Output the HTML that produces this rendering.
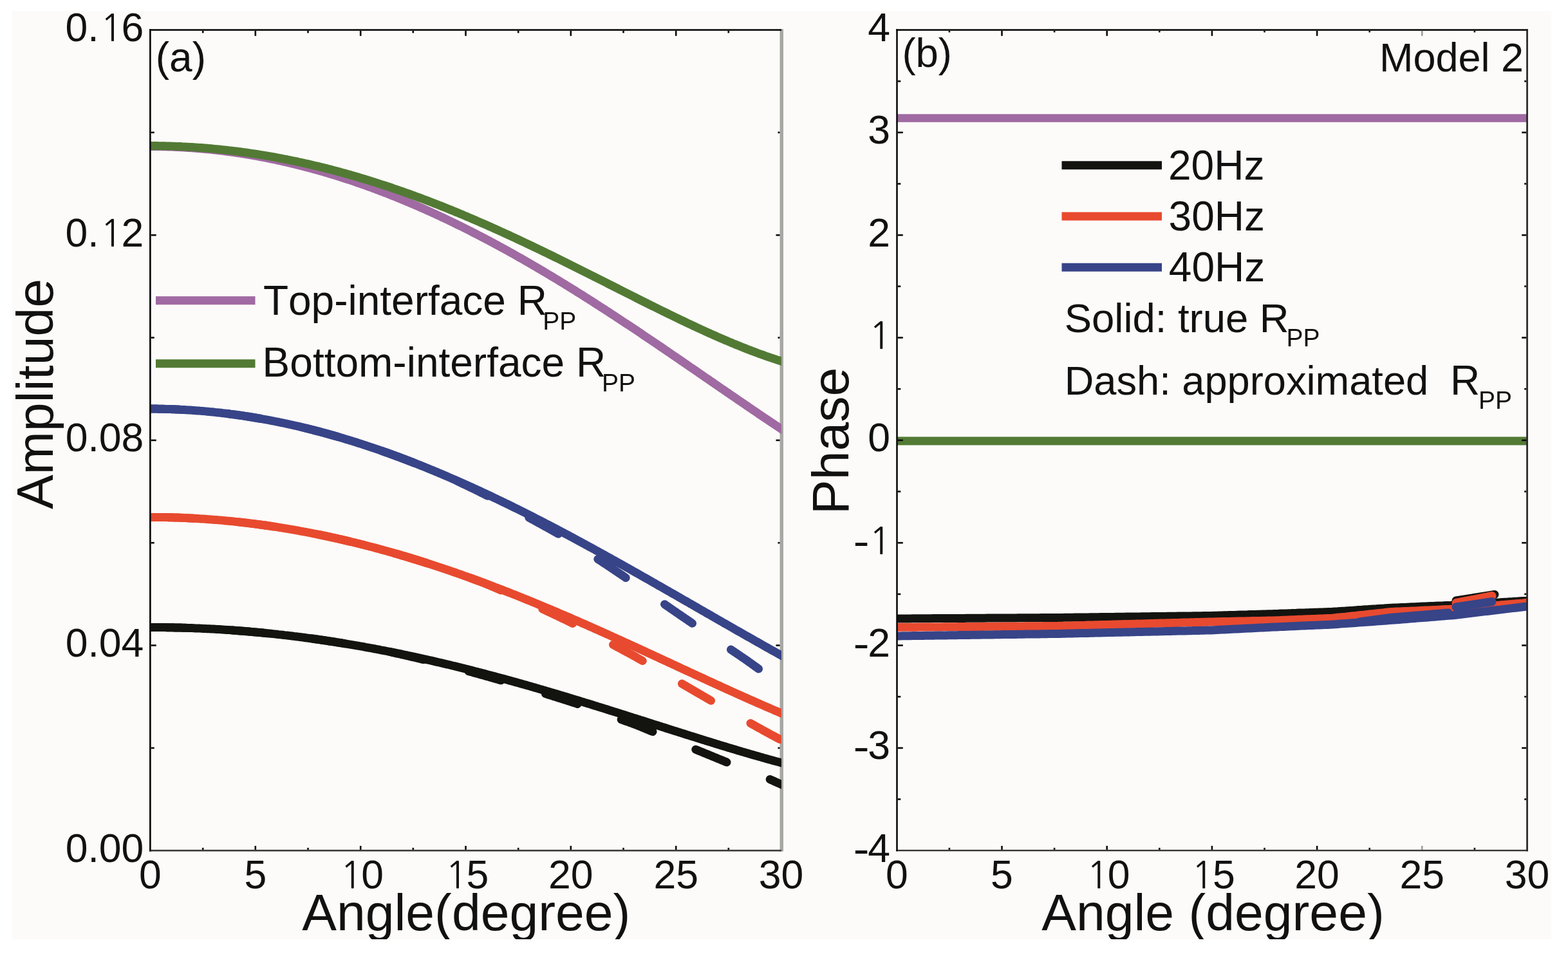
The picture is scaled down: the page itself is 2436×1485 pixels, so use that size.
<!DOCTYPE html><html><head><meta charset="utf-8"><title>Figure</title><style>html,body{margin:0;padding:0;background:#fff;width:2436px;height:1485px;overflow:hidden}</style></head><body><svg width="2436" height="1485" viewBox="0 0 2436 1485" style="display:block">
<defs><clipPath id="pg"><rect x="19" y="17" width="2391" height="1442"/></clipPath><clipPath id="ca"><rect x="234" y="47" width="980" height="1273"/></clipPath><clipPath id="cb"><rect x="1394" y="47" width="978" height="1273"/></clipPath></defs>
<rect width="2436" height="1485" fill="#ffffff"/>
<g clip-path="url(#pg)">
<rect x="19" y="17" width="2391" height="1442" fill="#fcfbf9"/>
<rect x="1211.5" y="45.2" width="5.5" height="1277.4" fill="#a7a7a3"/>
<g clip-path="url(#ca)"><path d="M226.0,227.5L229.0,227.5L232.0,227.5L235.0,227.5L238.0,227.5L241.0,227.5L244.0,227.5L247.0,227.6L250.0,227.6L253.0,227.7L256.0,227.8L259.0,227.8L262.0,227.9L265.0,228.0L268.0,228.1L271.0,228.3L274.0,228.4L277.0,228.5L280.0,228.7L283.0,228.8L286.0,229.0L289.0,229.2L292.0,229.4L295.0,229.6L298.0,229.8L301.0,230.0L304.0,230.2L307.0,230.5L310.0,230.7L313.0,231.0L316.0,231.2L319.0,231.5L322.0,231.8L325.0,232.1L328.0,232.4L331.0,232.7L334.0,233.0L337.0,233.4L340.0,233.7L343.0,234.1L346.0,234.4L349.0,234.8L352.0,235.2L355.0,235.6L358.0,236.0L361.0,236.4L364.0,236.9L367.0,237.3L370.0,237.7L373.0,238.2L376.0,238.6L379.0,239.1L382.0,239.6L385.0,240.1L388.0,240.6L391.0,241.1L394.0,241.6L397.0,242.2L400.0,242.7L403.0,243.3L406.0,243.8L409.0,244.4L412.0,245.0L415.0,245.6L418.0,246.2L421.0,246.8L424.0,247.4L427.0,248.0L430.0,248.7L433.0,249.3L436.0,250.0L439.0,250.6L442.0,251.3L445.0,252.0L448.0,252.7L451.0,253.4L454.0,254.1L457.0,254.8L460.0,255.6L463.0,256.3L466.0,257.1L469.0,257.8L472.0,258.6L475.0,259.4L478.0,260.2L481.0,261.0L484.0,261.8L487.0,262.6L490.0,263.4L493.0,264.3L496.0,265.1L499.0,266.0L502.0,266.8L505.0,267.7L508.0,268.6L511.0,269.5L514.0,270.4L517.0,271.3L520.0,272.2L523.0,273.2L526.0,274.1L529.0,275.0L532.0,276.0L535.0,277.0L538.0,278.0L541.0,278.9L544.0,279.9L547.0,280.9L550.0,281.9L553.0,283.0L556.0,284.0L559.0,285.0L562.0,286.1L565.0,287.2L568.0,288.2L571.0,289.3L574.0,290.4L577.0,291.5L580.0,292.6L583.0,293.7L586.0,294.8L589.0,295.9L592.0,297.1L595.0,298.2L598.0,299.4L601.0,300.5L604.0,301.7L607.0,302.9L610.0,304.1L613.0,305.3L616.0,306.5L619.0,307.7L622.0,308.9L625.0,310.2L628.0,311.4L631.0,312.7L634.0,313.9L637.0,315.2L640.0,316.5L643.0,317.7L646.0,319.0L649.0,320.3L652.0,321.7L655.0,323.0L658.0,324.3L661.0,325.6L664.0,327.0L667.0,328.3L670.0,329.7L673.0,331.1L676.0,332.4L679.0,333.8L682.0,335.2L685.0,336.6L688.0,338.0L691.0,339.4L694.0,340.8L697.0,342.3L700.0,343.7L703.0,345.2L706.0,346.6L709.0,348.1L712.0,349.6L715.0,351.0L718.0,352.5L721.0,354.0L724.0,355.5L727.0,357.0L730.0,358.5L733.0,360.1L736.0,361.6L739.0,363.1L742.0,364.7L745.0,366.2L748.0,367.8L751.0,369.4L754.0,370.9L757.0,372.5L760.0,374.1L763.0,375.7L766.0,377.3L769.0,378.9L772.0,380.5L775.0,382.2L778.0,383.8L781.0,385.4L784.0,387.1L787.0,388.7L790.0,390.4L793.0,392.1L796.0,393.7L799.0,395.4L802.0,397.1L805.0,398.8L808.0,400.5L811.0,402.2L814.0,403.9L817.0,405.7L820.0,407.4L823.0,409.1L826.0,410.8L829.0,412.6L832.0,414.3L835.0,416.1L838.0,417.9L841.0,419.6L844.0,421.4L847.0,423.2L850.0,425.0L853.0,426.8L856.0,428.6L859.0,430.4L862.0,432.2L865.0,434.0L868.0,435.8L871.0,437.7L874.0,439.5L877.0,441.3L880.0,443.2L883.0,445.0L886.0,446.9L889.0,448.7L892.0,450.6L895.0,452.5L898.0,454.4L901.0,456.2L904.0,458.1L907.0,460.0L910.0,461.9L913.0,463.8L916.0,465.7L919.0,467.6L922.0,469.5L925.0,471.5L928.0,473.4L931.0,475.3L934.0,477.3L937.0,479.2L940.0,481.1L943.0,483.1L946.0,485.0L949.0,487.0L952.0,488.9L955.0,490.9L958.0,492.9L961.0,494.8L964.0,496.8L967.0,498.8L970.0,500.8L973.0,502.8L976.0,504.7L979.0,506.7L982.0,508.7L985.0,510.7L988.0,512.7L991.0,514.7L994.0,516.7L997.0,518.7L1000.0,520.8L1003.0,522.8L1006.0,524.8L1009.0,526.8L1012.0,528.8L1015.0,530.9L1018.0,532.9L1021.0,534.9L1024.0,537.0L1027.0,539.0L1030.0,541.0L1033.0,543.1L1036.0,545.1L1039.0,547.2L1042.0,549.2L1045.0,551.3L1048.0,553.3L1051.0,555.4L1054.0,557.4L1057.0,559.5L1060.0,561.5L1063.0,563.6L1066.0,565.6L1069.0,567.7L1072.0,569.8L1075.0,571.8L1078.0,573.9L1081.0,575.9L1084.0,578.0L1087.0,580.1L1090.0,582.1L1093.0,584.2L1096.0,586.3L1099.0,588.3L1102.0,590.4L1105.0,592.5L1108.0,594.5L1111.0,596.6L1114.0,598.6L1117.0,600.7L1120.0,602.8L1123.0,604.8L1126.0,606.9L1129.0,609.0L1132.0,611.0L1135.0,613.1L1138.0,615.1L1141.0,617.2L1144.0,619.2L1147.0,621.3L1150.0,623.3L1153.0,625.4L1156.0,627.4L1159.0,629.5L1162.0,631.5L1165.0,633.6L1168.0,635.6L1171.0,637.7L1174.0,639.7L1177.0,641.7L1180.0,643.8L1183.0,645.8L1186.0,647.8L1189.0,649.8L1192.0,651.8L1195.0,653.9L1198.0,655.9L1201.0,657.9L1204.0,659.9L1207.0,661.9L1210.0,663.9L1213.0,665.9L1216.0,667.9L1219.0,669.9L1222.0,671.8" stroke="#a06aa2" stroke-width="13" fill="none" stroke-linejoin="round"/><path d="M226.0,226.6L229.0,226.6L232.0,226.6L235.0,226.6L238.0,226.6L241.0,226.6L244.0,226.6L247.0,226.7L250.0,226.7L253.0,226.8L256.0,226.8L259.0,226.9L262.0,227.0L265.0,227.1L268.0,227.2L271.0,227.3L274.0,227.4L277.0,227.5L280.0,227.6L283.0,227.8L286.0,227.9L289.0,228.1L292.0,228.2L295.0,228.4L298.0,228.6L301.0,228.8L304.0,229.0L307.0,229.2L310.0,229.4L313.0,229.6L316.0,229.8L319.0,230.1L322.0,230.3L325.0,230.6L328.0,230.8L331.0,231.1L334.0,231.4L337.0,231.7L340.0,232.0L343.0,232.3L346.0,232.6L349.0,232.9L352.0,233.2L355.0,233.6L358.0,233.9L361.0,234.3L364.0,234.6L367.0,235.0L370.0,235.4L373.0,235.8L376.0,236.2L379.0,236.6L382.0,237.0L385.0,237.4L388.0,237.9L391.0,238.3L394.0,238.8L397.0,239.2L400.0,239.7L403.0,240.2L406.0,240.6L409.0,241.1L412.0,241.6L415.0,242.1L418.0,242.6L421.0,243.2L424.0,243.7L427.0,244.2L430.0,244.8L433.0,245.4L436.0,245.9L439.0,246.5L442.0,247.1L445.0,247.7L448.0,248.3L451.0,248.9L454.0,249.5L457.0,250.1L460.0,250.7L463.0,251.4L466.0,252.0L469.0,252.7L472.0,253.3L475.0,254.0L478.0,254.7L481.0,255.4L484.0,256.1L487.0,256.8L490.0,257.5L493.0,258.2L496.0,258.9L499.0,259.7L502.0,260.4L505.0,261.1L508.0,261.9L511.0,262.7L514.0,263.4L517.0,264.2L520.0,265.0L523.0,265.8L526.0,266.6L529.0,267.4L532.0,268.3L535.0,269.1L538.0,269.9L541.0,270.8L544.0,271.6L547.0,272.5L550.0,273.3L553.0,274.2L556.0,275.1L559.0,276.0L562.0,276.9L565.0,277.8L568.0,278.7L571.0,279.6L574.0,280.6L577.0,281.5L580.0,282.4L583.0,283.4L586.0,284.3L589.0,285.3L592.0,286.3L595.0,287.3L598.0,288.2L601.0,289.2L604.0,290.2L607.0,291.2L610.0,292.3L613.0,293.3L616.0,294.3L619.0,295.4L622.0,296.4L625.0,297.4L628.0,298.5L631.0,299.6L634.0,300.6L637.0,301.7L640.0,302.8L643.0,303.9L646.0,305.0L649.0,306.1L652.0,307.2L655.0,308.3L658.0,309.5L661.0,310.6L664.0,311.7L667.0,312.9L670.0,314.0L673.0,315.2L676.0,316.4L679.0,317.5L682.0,318.7L685.0,319.9L688.0,321.1L691.0,322.3L694.0,323.5L697.0,324.7L700.0,325.9L703.0,327.1L706.0,328.4L709.0,329.6L712.0,330.8L715.0,332.1L718.0,333.3L721.0,334.6L724.0,335.9L727.0,337.1L730.0,338.4L733.0,339.7L736.0,341.0L739.0,342.3L742.0,343.6L745.0,344.9L748.0,346.2L751.0,347.5L754.0,348.8L757.0,350.1L760.0,351.5L763.0,352.8L766.0,354.1L769.0,355.5L772.0,356.8L775.0,358.2L778.0,359.6L781.0,360.9L784.0,362.3L787.0,363.7L790.0,365.0L793.0,366.4L796.0,367.8L799.0,369.2L802.0,370.6L805.0,372.0L808.0,373.4L811.0,374.8L814.0,376.2L817.0,377.7L820.0,379.1L823.0,380.5L826.0,381.9L829.0,383.4L832.0,384.8L835.0,386.2L838.0,387.7L841.0,389.1L844.0,390.6L847.0,392.0L850.0,393.5L853.0,395.0L856.0,396.4L859.0,397.9L862.0,399.4L865.0,400.8L868.0,402.3L871.0,403.8L874.0,405.3L877.0,406.8L880.0,408.2L883.0,409.7L886.0,411.2L889.0,412.7L892.0,414.2L895.0,415.7L898.0,417.2L901.0,418.7L904.0,420.2L907.0,421.7L910.0,423.2L913.0,424.7L916.0,426.2L919.0,427.7L922.0,429.2L925.0,430.8L928.0,432.3L931.0,433.8L934.0,435.3L937.0,436.8L940.0,438.3L943.0,439.8L946.0,441.4L949.0,442.9L952.0,444.4L955.0,445.9L958.0,447.4L961.0,448.9L964.0,450.5L967.0,452.0L970.0,453.5L973.0,455.0L976.0,456.5L979.0,458.0L982.0,459.5L985.0,461.0L988.0,462.6L991.0,464.1L994.0,465.6L997.0,467.1L1000.0,468.6L1003.0,470.1L1006.0,471.6L1009.0,473.1L1012.0,474.6L1015.0,476.0L1018.0,477.5L1021.0,479.0L1024.0,480.5L1027.0,482.0L1030.0,483.5L1033.0,484.9L1036.0,486.4L1039.0,487.9L1042.0,489.3L1045.0,490.8L1048.0,492.2L1051.0,493.7L1054.0,495.1L1057.0,496.6L1060.0,498.0L1063.0,499.4L1066.0,500.9L1069.0,502.3L1072.0,503.7L1075.0,505.1L1078.0,506.5L1081.0,507.9L1084.0,509.3L1087.0,510.7L1090.0,512.1L1093.0,513.4L1096.0,514.8L1099.0,516.2L1102.0,517.5L1105.0,518.9L1108.0,520.2L1111.0,521.5L1114.0,522.9L1117.0,524.2L1120.0,525.5L1123.0,526.8L1126.0,528.1L1129.0,529.3L1132.0,530.6L1135.0,531.9L1138.0,533.1L1141.0,534.4L1144.0,535.6L1147.0,536.8L1150.0,538.0L1153.0,539.2L1156.0,540.4L1159.0,541.6L1162.0,542.8L1165.0,543.9L1168.0,545.1L1171.0,546.2L1174.0,547.3L1177.0,548.5L1180.0,549.6L1183.0,550.6L1186.0,551.7L1189.0,552.8L1192.0,553.8L1195.0,554.9L1198.0,555.9L1201.0,556.9L1204.0,557.9L1207.0,558.9L1210.0,559.8L1213.0,560.8L1216.0,561.7L1219.0,562.6L1222.0,563.5" stroke="#527a34" stroke-width="13" fill="none" stroke-linejoin="round"/><path d="M226.0,635.1L229.0,635.1L232.0,635.1L235.0,635.1L238.0,635.1L241.0,635.1L244.0,635.1L247.0,635.2L250.0,635.2L253.0,635.3L256.0,635.4L259.0,635.4L262.0,635.5L265.0,635.6L268.0,635.7L271.0,635.8L274.0,635.9L277.0,636.1L280.0,636.2L283.0,636.4L286.0,636.5L289.0,636.7L292.0,636.9L295.0,637.1L298.0,637.3L301.0,637.5L304.0,637.7L307.0,637.9L310.0,638.1L313.0,638.4L316.0,638.6L319.0,638.9L322.0,639.2L325.0,639.5L328.0,639.7L331.0,640.0L334.0,640.4L337.0,640.7L340.0,641.0L343.0,641.3L346.0,641.7L349.0,642.0L352.0,642.4L355.0,642.8L358.0,643.2L361.0,643.5L364.0,643.9L367.0,644.4L370.0,644.8L373.0,645.2L376.0,645.6L379.0,646.1L382.0,646.5L385.0,647.0L388.0,647.5L391.0,648.0L394.0,648.5L397.0,649.0L400.0,649.5L403.0,650.0L406.0,650.5L409.0,651.1L412.0,651.6L415.0,652.2L418.0,652.7L421.0,653.3L424.0,653.9L427.0,654.5L430.0,655.1L433.0,655.7L436.0,656.3L439.0,656.9L442.0,657.5L445.0,658.2L448.0,658.8L451.0,659.5L454.0,660.2L457.0,660.8L460.0,661.5L463.0,662.2L466.0,662.9L469.0,663.6L472.0,664.4L475.0,665.1L478.0,665.8L481.0,666.6L484.0,667.3L487.0,668.1L490.0,668.9L493.0,669.7L496.0,670.4L499.0,671.2L502.0,672.0L505.0,672.9L508.0,673.7L511.0,674.5L514.0,675.4L517.0,676.2L520.0,677.1L523.0,677.9L526.0,678.8L529.0,679.7L532.0,680.6L535.0,681.5L538.0,682.4L541.0,683.3L544.0,684.2L547.0,685.1L550.0,686.1L553.0,687.0L556.0,688.0L559.0,688.9L562.0,689.9L565.0,690.9L568.0,691.8L571.0,692.8L574.0,693.8L577.0,694.8L580.0,695.9L583.0,696.9L586.0,697.9L589.0,698.9L592.0,700.0L595.0,701.0L598.0,702.1L601.0,703.2L604.0,704.2L607.0,705.3L610.0,706.4L613.0,707.5L616.0,708.6L619.0,709.7L622.0,710.8L625.0,712.0L628.0,713.1L631.0,714.2L634.0,715.4L637.0,716.5L640.0,717.7L643.0,718.9L646.0,720.0L649.0,721.2L652.0,722.4L655.0,723.6L658.0,724.8L661.0,726.0L664.0,727.2L667.0,728.5L670.0,729.7L673.0,730.9L676.0,732.2L679.0,733.4L682.0,734.7L685.0,735.9L688.0,737.2L691.0,738.5L694.0,739.8L697.0,741.1L700.0,742.4L703.0,743.7L706.0,745.0L709.0,746.3L712.0,747.6L715.0,748.9L718.0,750.3L721.0,751.6L724.0,752.9L727.0,754.3L730.0,755.6L733.0,757.0L736.0,758.4L739.0,759.7L742.0,761.1L745.0,762.5L748.0,763.9L751.0,765.3L754.0,766.7L757.0,768.1L760.0,769.5L763.0,770.9L766.0,772.4L769.0,773.8L772.0,775.2L775.0,776.7L778.0,778.1L781.0,779.6L784.0,781.0L787.0,782.5L790.0,783.9L793.0,785.4L796.0,786.9L799.0,788.4L802.0,789.8L805.0,791.3L808.0,792.8L811.0,794.3L814.0,795.8L817.0,797.3L820.0,798.9L823.0,800.4L826.0,801.9L829.0,803.4L832.0,805.0L835.0,806.5L838.0,808.0L841.0,809.6L844.0,811.1L847.0,812.7L850.0,814.2L853.0,815.8L856.0,817.4L859.0,818.9L862.0,820.5L865.0,822.1L868.0,823.7L871.0,825.3L874.0,826.8L877.0,828.4L880.0,830.0L883.0,831.6L886.0,833.2L889.0,834.8L892.0,836.4L895.0,838.1L898.0,839.7L901.0,841.3L904.0,842.9L907.0,844.6L910.0,846.2L913.0,847.8L916.0,849.5L919.0,851.1L922.0,852.7L925.0,854.4L928.0,856.0L931.0,857.7L934.0,859.3L937.0,861.0L940.0,862.6L943.0,864.3L946.0,866.0L949.0,867.6L952.0,869.3L955.0,871.0L958.0,872.7L961.0,874.3L964.0,876.0L967.0,877.7L970.0,879.4L973.0,881.1L976.0,882.7L979.0,884.4L982.0,886.1L985.0,887.8L988.0,889.5L991.0,891.2L994.0,892.9L997.0,894.6L1000.0,896.3L1003.0,898.0L1006.0,899.7L1009.0,901.4L1012.0,903.1L1015.0,904.8L1018.0,906.5L1021.0,908.3L1024.0,910.0L1027.0,911.7L1030.0,913.4L1033.0,915.1L1036.0,916.8L1039.0,918.5L1042.0,920.3L1045.0,922.0L1048.0,923.7L1051.0,925.4L1054.0,927.1L1057.0,928.9L1060.0,930.6L1063.0,932.3L1066.0,934.0L1069.0,935.7L1072.0,937.5L1075.0,939.2L1078.0,940.9L1081.0,942.6L1084.0,944.4L1087.0,946.1L1090.0,947.8L1093.0,949.5L1096.0,951.3L1099.0,953.0L1102.0,954.7L1105.0,956.4L1108.0,958.2L1111.0,959.9L1114.0,961.6L1117.0,963.3L1120.0,965.0L1123.0,966.8L1126.0,968.5L1129.0,970.2L1132.0,971.9L1135.0,973.6L1138.0,975.3L1141.0,977.1L1144.0,978.8L1147.0,980.5L1150.0,982.2L1153.0,983.9L1156.0,985.6L1159.0,987.3L1162.0,989.0L1165.0,990.7L1168.0,992.4L1171.0,994.1L1174.0,995.8L1177.0,997.5L1180.0,999.2L1183.0,1000.9L1186.0,1002.6L1189.0,1004.3L1192.0,1006.0L1195.0,1007.7L1198.0,1009.4L1201.0,1011.0L1204.0,1012.7L1207.0,1014.4L1210.0,1016.1L1213.0,1017.7L1216.0,1019.4L1219.0,1021.1L1222.0,1022.7" stroke="#374488" stroke-width="13" fill="none" stroke-linejoin="round"/><path d="M227.2,635.1L229.2,635.1L231.2,635.1L233.2,635.1L235.2,635.1L237.2,635.1L239.2,635.1L241.2,635.1L243.2,635.1L245.2,635.2L247.2,635.2L249.2,635.2L251.2,635.3L253.2,635.3L255.2,635.3L257.2,635.4L259.2,635.4L261.2,635.5L263.2,635.5L265.2,635.6L267.2,635.7L269.2,635.8L271.2,635.8L273.2,635.9L275.2,636.0L277.2,636.1L279.2,636.2L279.5,636.2 M352.0,642.4L354.0,642.6L356.0,642.9L358.0,643.2L360.0,643.4L362.0,643.7L364.0,643.9L366.0,644.2L368.0,644.5L370.0,644.8L372.0,645.1L374.0,645.3L376.0,645.6L378.0,645.9L380.0,646.2L382.0,646.5L384.0,646.9L386.0,647.2L388.0,647.5L390.0,647.8L392.0,648.1L394.0,648.5L396.0,648.8L398.0,649.1L400.0,649.5L402.0,649.8L403.5,650.1 M474.8,665.0L476.8,665.5L478.8,666.0L480.8,666.5L482.8,667.0L484.8,667.5L486.8,668.0L488.8,668.6L490.8,669.1L492.8,669.6L494.8,670.1L496.8,670.6L498.8,671.2L500.8,671.7L502.8,672.2L504.8,672.8L506.8,673.3L508.8,673.9L510.8,674.4L512.8,675.0L514.8,675.6L516.8,676.1L518.8,676.7L520.8,677.3L522.8,677.8L524.8,678.4L525.2,678.6 M594.5,700.9L596.5,701.6L598.5,702.3L600.5,703.0L602.5,703.7L604.5,704.4L606.5,705.1L608.5,705.9L610.5,706.6L612.5,707.3L614.5,708.1L616.5,708.8L618.5,709.5L620.5,710.3L622.5,711.0L624.5,711.8L626.5,712.5L628.5,713.3L630.5,714.1L632.5,714.8L634.5,715.6L636.5,716.4L638.5,717.1L640.5,717.9L642.5,718.7L643.5,719.1 M710.5,747.3L712.5,748.2L714.5,749.2L716.5,750.1L718.5,751.1L720.5,752.1L722.5,753.0L724.5,754.0L726.5,754.9L728.5,755.9L730.5,756.9L732.5,757.9L734.5,758.8L736.5,759.8L738.5,760.8L740.5,761.8L742.5,762.8L744.5,763.8L746.5,764.8L748.5,765.7L750.5,766.7L752.5,767.7L754.5,768.7L756.5,769.8L757.5,770.3 M821.8,804.0L823.8,805.1L825.8,806.2L827.8,807.3L829.8,808.4L831.8,809.5L833.8,810.6L835.8,811.7L837.8,812.8L839.8,813.9L841.8,815.0L843.8,816.1L845.8,817.2L847.8,818.3L849.8,819.4L851.8,820.5L853.8,821.6L855.8,822.7L857.8,823.9L859.8,825.0L861.8,826.1L863.8,827.2L865.8,828.4L867.5,829.3 M928.8,868.5L930.8,869.8L932.8,871.1L934.8,872.4L936.8,873.7L938.8,875.0L940.8,876.3L942.8,877.6L944.8,879.0L946.8,880.3L948.8,881.6L950.8,883.0L952.8,884.3L954.8,885.7L956.8,887.0L958.8,888.4L960.8,889.7L962.8,891.1L964.8,892.4L966.8,893.8L968.8,895.1L970.8,896.5L972.2,897.5 M1032.5,938.7L1034.5,940.1L1036.5,941.5L1038.5,942.8L1040.5,944.2L1042.5,945.6L1044.5,947.0L1046.5,948.4L1048.5,949.7L1050.5,951.1L1052.5,952.5L1054.5,953.9L1056.5,955.2L1058.5,956.6L1060.5,958.0L1062.5,959.3L1064.5,960.7L1066.5,962.0L1068.5,963.4L1070.5,964.8L1072.5,966.1L1074.5,967.5L1075.5,968.2 M1135.5,1009.0L1137.5,1010.4L1139.5,1011.7L1141.5,1013.1L1143.5,1014.4L1145.5,1015.8L1147.5,1017.1L1149.5,1018.5L1151.5,1019.9L1153.5,1021.2L1155.5,1022.6L1157.5,1023.9L1159.5,1025.3L1161.5,1026.7L1163.5,1028.2L1165.5,1029.6L1167.5,1031.0L1169.5,1032.5L1171.5,1033.9L1173.5,1035.3L1175.5,1036.7L1177.5,1038.2L1178.5,1038.9" stroke="#374488" stroke-width="13" fill="none" stroke-linecap="round" stroke-linejoin="round"/><path d="M226.0,803.4L229.0,803.4L232.0,803.4L235.0,803.4L238.0,803.4L241.0,803.4L244.0,803.4L247.0,803.4L250.0,803.5L253.0,803.5L256.0,803.6L259.0,803.6L262.0,803.7L265.0,803.8L268.0,803.8L271.0,803.9L274.0,804.0L277.0,804.1L280.0,804.2L283.0,804.3L286.0,804.5L289.0,804.6L292.0,804.7L295.0,804.9L298.0,805.0L301.0,805.2L304.0,805.3L307.0,805.5L310.0,805.7L313.0,805.9L316.0,806.1L319.0,806.3L322.0,806.5L325.0,806.7L328.0,806.9L331.0,807.2L334.0,807.4L337.0,807.6L340.0,807.9L343.0,808.1L346.0,808.4L349.0,808.7L352.0,809.0L355.0,809.2L358.0,809.5L361.0,809.8L364.0,810.1L367.0,810.5L370.0,810.8L373.0,811.1L376.0,811.4L379.0,811.8L382.0,812.1L385.0,812.5L388.0,812.9L391.0,813.2L394.0,813.6L397.0,814.0L400.0,814.4L403.0,814.8L406.0,815.2L409.0,815.6L412.0,816.0L415.0,816.5L418.0,816.9L421.0,817.3L424.0,817.8L427.0,818.2L430.0,818.7L433.0,819.2L436.0,819.6L439.0,820.1L442.0,820.6L445.0,821.1L448.0,821.6L451.0,822.1L454.0,822.6L457.0,823.1L460.0,823.7L463.0,824.2L466.0,824.8L469.0,825.3L472.0,825.9L475.0,826.4L478.0,827.0L481.0,827.6L484.0,828.2L487.0,828.8L490.0,829.4L493.0,830.0L496.0,830.6L499.0,831.2L502.0,831.8L505.0,832.4L508.0,833.1L511.0,833.7L514.0,834.4L517.0,835.0L520.0,835.7L523.0,836.4L526.0,837.0L529.0,837.7L532.0,838.4L535.0,839.1L538.0,839.8L541.0,840.5L544.0,841.2L547.0,842.0L550.0,842.7L553.0,843.4L556.0,844.2L559.0,844.9L562.0,845.7L565.0,846.4L568.0,847.2L571.0,848.0L574.0,848.8L577.0,849.5L580.0,850.3L583.0,851.1L586.0,851.9L589.0,852.7L592.0,853.6L595.0,854.4L598.0,855.2L601.0,856.0L604.0,856.9L607.0,857.7L610.0,858.6L613.0,859.5L616.0,860.3L619.0,861.2L622.0,862.1L625.0,863.0L628.0,863.8L631.0,864.7L634.0,865.6L637.0,866.5L640.0,867.5L643.0,868.4L646.0,869.3L649.0,870.2L652.0,871.2L655.0,872.1L658.0,873.1L661.0,874.0L664.0,875.0L667.0,875.9L670.0,876.9L673.0,877.9L676.0,878.9L679.0,879.9L682.0,880.9L685.0,881.9L688.0,882.9L691.0,883.9L694.0,884.9L697.0,885.9L700.0,886.9L703.0,888.0L706.0,889.0L709.0,890.0L712.0,891.1L715.0,892.1L718.0,893.2L721.0,894.3L724.0,895.3L727.0,896.4L730.0,897.5L733.0,898.6L736.0,899.7L739.0,900.8L742.0,901.9L745.0,903.0L748.0,904.1L751.0,905.2L754.0,906.3L757.0,907.4L760.0,908.6L763.0,909.7L766.0,910.8L769.0,912.0L772.0,913.1L775.0,914.3L778.0,915.4L781.0,916.6L784.0,917.8L787.0,918.9L790.0,920.1L793.0,921.3L796.0,922.5L799.0,923.6L802.0,924.8L805.0,926.0L808.0,927.2L811.0,928.4L814.0,929.7L817.0,930.9L820.0,932.1L823.0,933.3L826.0,934.5L829.0,935.8L832.0,937.0L835.0,938.2L838.0,939.5L841.0,940.7L844.0,942.0L847.0,943.2L850.0,944.5L853.0,945.7L856.0,947.0L859.0,948.3L862.0,949.5L865.0,950.8L868.0,952.1L871.0,953.4L874.0,954.7L877.0,955.9L880.0,957.2L883.0,958.5L886.0,959.8L889.0,961.1L892.0,962.4L895.0,963.7L898.0,965.0L901.0,966.4L904.0,967.7L907.0,969.0L910.0,970.3L913.0,971.6L916.0,973.0L919.0,974.3L922.0,975.6L925.0,977.0L928.0,978.3L931.0,979.6L934.0,981.0L937.0,982.3L940.0,983.7L943.0,985.0L946.0,986.4L949.0,987.7L952.0,989.1L955.0,990.4L958.0,991.8L961.0,993.2L964.0,994.5L967.0,995.9L970.0,997.3L973.0,998.6L976.0,1000.0L979.0,1001.4L982.0,1002.7L985.0,1004.1L988.0,1005.5L991.0,1006.9L994.0,1008.2L997.0,1009.6L1000.0,1011.0L1003.0,1012.4L1006.0,1013.8L1009.0,1015.2L1012.0,1016.5L1015.0,1017.9L1018.0,1019.3L1021.0,1020.7L1024.0,1022.1L1027.0,1023.5L1030.0,1024.9L1033.0,1026.3L1036.0,1027.6L1039.0,1029.0L1042.0,1030.4L1045.0,1031.8L1048.0,1033.2L1051.0,1034.6L1054.0,1036.0L1057.0,1037.4L1060.0,1038.8L1063.0,1040.2L1066.0,1041.5L1069.0,1042.9L1072.0,1044.3L1075.0,1045.7L1078.0,1047.1L1081.0,1048.5L1084.0,1049.9L1087.0,1051.2L1090.0,1052.6L1093.0,1054.0L1096.0,1055.4L1099.0,1056.8L1102.0,1058.2L1105.0,1059.5L1108.0,1060.9L1111.0,1062.3L1114.0,1063.7L1117.0,1065.0L1120.0,1066.4L1123.0,1067.8L1126.0,1069.1L1129.0,1070.5L1132.0,1071.9L1135.0,1073.2L1138.0,1074.6L1141.0,1075.9L1144.0,1077.3L1147.0,1078.6L1150.0,1080.0L1153.0,1081.3L1156.0,1082.7L1159.0,1084.0L1162.0,1085.3L1165.0,1086.7L1168.0,1088.0L1171.0,1089.3L1174.0,1090.6L1177.0,1092.0L1180.0,1093.3L1183.0,1094.6L1186.0,1095.9L1189.0,1097.2L1192.0,1098.5L1195.0,1099.8L1198.0,1101.1L1201.0,1102.4L1204.0,1103.7L1207.0,1104.9L1210.0,1106.2L1213.0,1107.5L1216.0,1108.8L1219.0,1110.0L1222.0,1111.3" stroke="#e84a2f" stroke-width="13" fill="none" stroke-linejoin="round"/><path d="M249.2,803.5L251.2,803.5L253.2,803.5L255.2,803.6L257.2,803.6L259.2,803.6L261.2,803.7L263.2,803.7L265.2,803.8L267.2,803.8L269.2,803.9L271.2,803.9L273.2,804.0L275.2,804.1L277.2,804.1L279.2,804.2L281.2,804.3L283.2,804.4L285.2,804.4L287.2,804.5L289.2,804.6L291.2,804.7L293.2,804.8L295.2,804.9L297.2,805.0L299.2,805.1L301.2,805.2L301.5,805.2 M372.0,811.0L374.0,811.2L376.0,811.4L378.0,811.7L380.0,811.9L382.0,812.1L384.0,812.4L386.0,812.6L388.0,812.9L390.0,813.1L392.0,813.4L394.0,813.6L396.0,813.9L398.0,814.1L400.0,814.4L402.0,814.7L404.0,814.9L406.0,815.2L408.0,815.5L410.0,815.7L412.0,816.0L414.0,816.3L416.0,816.6L418.0,816.9L420.0,817.2L422.0,817.5L423.8,817.7 M493.2,830.0L495.2,830.4L497.2,830.8L499.2,831.2L501.2,831.7L503.2,832.1L505.2,832.5L507.2,832.9L509.2,833.3L511.2,833.8L513.2,834.2L515.2,834.6L517.2,835.1L519.2,835.5L521.2,836.0L523.2,836.4L525.2,836.9L527.2,837.3L529.2,837.8L531.2,838.2L533.2,838.7L535.2,839.2L537.2,839.6L539.2,840.1L541.2,840.6L543.2,841.1L544.2,841.3 M612.8,859.4L614.8,860.0L616.8,860.5L618.8,861.1L620.8,861.7L622.8,862.3L624.8,862.9L626.8,863.5L628.8,864.1L630.8,864.7L632.8,865.3L634.8,865.9L636.8,866.5L638.8,867.1L640.8,867.7L642.8,868.3L644.8,868.9L646.8,869.5L648.8,870.2L650.8,870.8L652.8,871.4L654.8,872.0L656.8,872.7L658.8,873.3L660.8,873.9L662.8,874.6L662.8,874.6 M729.8,897.4L731.8,898.1L733.8,898.8L735.8,899.6L737.8,900.3L739.8,901.0L741.8,901.8L743.8,902.5L745.8,903.2L747.8,904.0L749.8,904.7L751.8,905.5L753.8,906.4L755.8,907.2L757.8,908.1L759.8,908.9L761.8,909.8L763.8,910.6L765.8,911.5L767.8,912.4L769.8,913.2L771.8,914.1L773.8,914.9L775.8,915.8L777.8,916.7L778.2,916.9 M842.8,946.0L844.8,946.9L846.8,947.8L848.8,948.8L850.8,949.7L852.8,950.7L854.8,951.6L856.8,952.5L858.8,953.5L860.8,954.4L862.8,955.4L864.8,956.3L866.8,957.3L868.8,958.2L870.8,959.2L872.8,960.1L874.8,961.1L876.8,962.0L878.8,963.0L880.8,964.0L882.8,964.9L884.8,965.9L886.8,966.9L888.8,967.9L889.8,968.4 M952.5,1001.5L954.5,1002.5L956.5,1003.6L958.5,1004.7L960.5,1005.8L962.5,1006.8L964.5,1007.9L966.5,1009.0L968.5,1010.1L970.5,1011.1L972.5,1012.2L974.5,1013.3L976.5,1014.4L978.5,1015.4L980.5,1016.5L982.5,1017.6L984.5,1018.7L986.5,1019.8L988.5,1020.9L990.5,1022.1L992.5,1023.2L994.5,1024.4L996.5,1025.5L998.2,1026.5 M1059.5,1062.1L1061.5,1063.3L1063.5,1064.4L1065.5,1065.6L1067.5,1066.8L1069.5,1067.9L1071.5,1069.1L1073.5,1070.2L1075.5,1071.4L1077.5,1072.6L1079.5,1073.7L1081.5,1074.9L1083.5,1076.1L1085.5,1077.2L1087.5,1078.4L1089.5,1079.5L1091.5,1080.7L1093.5,1081.9L1095.5,1083.0L1097.5,1084.2L1099.5,1085.4L1101.5,1086.5L1103.5,1087.7L1104.5,1088.3 M1166.0,1123.5L1168.0,1124.6L1170.0,1125.7L1172.0,1126.8L1174.0,1128.0L1176.0,1129.1L1178.0,1130.2L1180.0,1131.3L1182.0,1132.4L1184.0,1133.5L1186.0,1134.7L1188.0,1135.8L1190.0,1136.9L1192.0,1137.9L1194.0,1139.0L1196.0,1140.1L1198.0,1141.2L1200.0,1142.2L1202.0,1143.3L1204.0,1144.4L1206.0,1145.4L1208.0,1146.5L1210.0,1147.6L1211.8,1148.5" stroke="#e84a2f" stroke-width="13" fill="none" stroke-linecap="round" stroke-linejoin="round"/><path d="M226.0,974.5L229.0,974.5L232.0,974.5L235.0,974.5L238.0,974.5L241.0,974.5L244.0,974.5L247.0,974.5L250.0,974.5L253.0,974.6L256.0,974.6L259.0,974.7L262.0,974.7L265.0,974.7L268.0,974.8L271.0,974.9L274.0,974.9L277.0,975.0L280.0,975.1L283.0,975.2L286.0,975.2L289.0,975.3L292.0,975.4L295.0,975.5L298.0,975.6L301.0,975.7L304.0,975.9L307.0,976.0L310.0,976.1L313.0,976.2L316.0,976.4L319.0,976.5L322.0,976.7L325.0,976.8L328.0,977.0L331.0,977.1L334.0,977.3L337.0,977.5L340.0,977.6L343.0,977.8L346.0,978.0L349.0,978.2L352.0,978.4L355.0,978.6L358.0,978.8L361.0,979.0L364.0,979.2L367.0,979.5L370.0,979.7L373.0,979.9L376.0,980.1L379.0,980.4L382.0,980.6L385.0,980.9L388.0,981.1L391.0,981.4L394.0,981.7L397.0,981.9L400.0,982.2L403.0,982.5L406.0,982.8L409.0,983.1L412.0,983.4L415.0,983.7L418.0,984.0L421.0,984.3L424.0,984.6L427.0,984.9L430.0,985.2L433.0,985.6L436.0,985.9L439.0,986.2L442.0,986.6L445.0,986.9L448.0,987.3L451.0,987.6L454.0,988.0L457.0,988.4L460.0,988.7L463.0,989.1L466.0,989.5L469.0,989.9L472.0,990.3L475.0,990.7L478.0,991.1L481.0,991.5L484.0,991.9L487.0,992.3L490.0,992.7L493.0,993.1L496.0,993.6L499.0,994.0L502.0,994.5L505.0,994.9L508.0,995.3L511.0,995.8L514.0,996.3L517.0,996.7L520.0,997.2L523.0,997.7L526.0,998.1L529.0,998.6L532.0,999.1L535.0,999.6L538.0,1000.1L541.0,1000.6L544.0,1001.1L547.0,1001.6L550.0,1002.1L553.0,1002.6L556.0,1003.1L559.0,1003.7L562.0,1004.2L565.0,1004.7L568.0,1005.3L571.0,1005.8L574.0,1006.4L577.0,1006.9L580.0,1007.5L583.0,1008.0L586.0,1008.6L589.0,1009.2L592.0,1009.8L595.0,1010.3L598.0,1010.9L601.0,1011.5L604.0,1012.1L607.0,1012.7L610.0,1013.3L613.0,1013.9L616.0,1014.5L619.0,1015.1L622.0,1015.7L625.0,1016.4L628.0,1017.0L631.0,1017.6L634.0,1018.3L637.0,1018.9L640.0,1019.5L643.0,1020.2L646.0,1020.8L649.0,1021.5L652.0,1022.2L655.0,1022.8L658.0,1023.5L661.0,1024.2L664.0,1024.8L667.0,1025.5L670.0,1026.2L673.0,1026.9L676.0,1027.6L679.0,1028.3L682.0,1029.0L685.0,1029.7L688.0,1030.4L691.0,1031.1L694.0,1031.8L697.0,1032.5L700.0,1033.2L703.0,1034.0L706.0,1034.7L709.0,1035.4L712.0,1036.2L715.0,1036.9L718.0,1037.7L721.0,1038.4L724.0,1039.2L727.0,1039.9L730.0,1040.7L733.0,1041.4L736.0,1042.2L739.0,1043.0L742.0,1043.7L745.0,1044.5L748.0,1045.3L751.0,1046.1L754.0,1046.9L757.0,1047.7L760.0,1048.5L763.0,1049.3L766.0,1050.1L769.0,1050.9L772.0,1051.7L775.0,1052.5L778.0,1053.3L781.0,1054.1L784.0,1054.9L787.0,1055.7L790.0,1056.6L793.0,1057.4L796.0,1058.2L799.0,1059.1L802.0,1059.9L805.0,1060.7L808.0,1061.6L811.0,1062.4L814.0,1063.3L817.0,1064.1L820.0,1065.0L823.0,1065.8L826.0,1066.7L829.0,1067.6L832.0,1068.4L835.0,1069.3L838.0,1070.2L841.0,1071.1L844.0,1071.9L847.0,1072.8L850.0,1073.7L853.0,1074.6L856.0,1075.5L859.0,1076.3L862.0,1077.2L865.0,1078.1L868.0,1079.0L871.0,1079.9L874.0,1080.8L877.0,1081.7L880.0,1082.6L883.0,1083.5L886.0,1084.4L889.0,1085.3L892.0,1086.3L895.0,1087.2L898.0,1088.1L901.0,1089.0L904.0,1089.9L907.0,1090.8L910.0,1091.8L913.0,1092.7L916.0,1093.6L919.0,1094.5L922.0,1095.5L925.0,1096.4L928.0,1097.3L931.0,1098.3L934.0,1099.2L937.0,1100.1L940.0,1101.1L943.0,1102.0L946.0,1103.0L949.0,1103.9L952.0,1104.8L955.0,1105.8L958.0,1106.7L961.0,1107.7L964.0,1108.6L967.0,1109.6L970.0,1110.5L973.0,1111.5L976.0,1112.4L979.0,1113.4L982.0,1114.3L985.0,1115.3L988.0,1116.2L991.0,1117.2L994.0,1118.1L997.0,1119.1L1000.0,1120.0L1003.0,1121.0L1006.0,1121.9L1009.0,1122.9L1012.0,1123.8L1015.0,1124.8L1018.0,1125.8L1021.0,1126.7L1024.0,1127.7L1027.0,1128.6L1030.0,1129.6L1033.0,1130.5L1036.0,1131.5L1039.0,1132.4L1042.0,1133.4L1045.0,1134.3L1048.0,1135.3L1051.0,1136.2L1054.0,1137.2L1057.0,1138.1L1060.0,1139.1L1063.0,1140.0L1066.0,1141.0L1069.0,1141.9L1072.0,1142.9L1075.0,1143.8L1078.0,1144.7L1081.0,1145.7L1084.0,1146.6L1087.0,1147.6L1090.0,1148.5L1093.0,1149.4L1096.0,1150.4L1099.0,1151.3L1102.0,1152.2L1105.0,1153.1L1108.0,1154.1L1111.0,1155.0L1114.0,1155.9L1117.0,1156.8L1120.0,1157.8L1123.0,1158.7L1126.0,1159.6L1129.0,1160.5L1132.0,1161.4L1135.0,1162.3L1138.0,1163.2L1141.0,1164.1L1144.0,1165.0L1147.0,1165.9L1150.0,1166.8L1153.0,1167.7L1156.0,1168.5L1159.0,1169.4L1162.0,1170.3L1165.0,1171.2L1168.0,1172.1L1171.0,1172.9L1174.0,1173.8L1177.0,1174.6L1180.0,1175.5L1183.0,1176.3L1186.0,1177.2L1189.0,1178.0L1192.0,1178.9L1195.0,1179.7L1198.0,1180.5L1201.0,1181.4L1204.0,1182.2L1207.0,1183.0L1210.0,1183.8L1213.0,1184.6L1216.0,1185.4L1219.0,1186.2L1222.0,1187.0" stroke="#131410" stroke-width="13" fill="none" stroke-linejoin="round"/><path d="M236.0,974.5L238.0,974.5L240.0,974.5L242.0,974.5L244.0,974.5L246.0,974.5L248.0,974.5L250.0,974.5L252.0,974.6L254.0,974.6L256.0,974.6L258.0,974.6L260.0,974.7L262.0,974.7L264.0,974.7L266.0,974.8L268.0,974.8L270.0,974.8L272.0,974.9L274.0,974.9L276.0,975.0L278.0,975.0L280.0,975.1L282.0,975.1L284.0,975.2L286.0,975.2L288.0,975.3L288.2,975.3 M360.5,979.0L362.5,979.1L364.5,979.3L366.5,979.4L368.5,979.6L370.5,979.7L372.5,979.9L374.5,980.0L376.5,980.2L378.5,980.3L380.5,980.5L382.5,980.7L384.5,980.8L386.5,981.0L388.5,981.2L390.5,981.4L392.5,981.5L394.5,981.7L396.5,981.9L398.5,982.1L400.5,982.3L402.5,982.4L404.5,982.6L406.5,982.8L408.5,983.0L410.5,983.2L412.5,983.4L412.5,983.4 M484.2,991.9L486.2,992.2L488.2,992.5L490.2,992.8L492.2,993.0L494.2,993.3L496.2,993.6L498.2,993.9L500.2,994.2L502.2,994.5L504.2,994.8L506.2,995.1L508.2,995.4L510.2,995.7L512.2,996.0L514.2,996.3L516.2,996.6L518.2,996.9L520.2,997.2L522.2,997.5L524.2,997.9L526.2,998.2L528.2,998.5L530.2,998.8L532.2,999.1L534.2,999.5L536.0,999.8 M607.0,1012.8L609.0,1013.3L611.0,1013.7L613.0,1014.2L615.0,1014.6L617.0,1015.1L619.0,1015.5L621.0,1016.0L623.0,1016.4L625.0,1016.9L627.0,1017.3L629.0,1017.8L631.0,1018.2L633.0,1018.7L635.0,1019.2L637.0,1019.6L639.0,1020.1L641.0,1020.6L643.0,1021.0L645.0,1021.5L647.0,1022.0L649.0,1022.5L651.0,1023.0L653.0,1023.4L655.0,1023.9L657.0,1024.4L658.0,1024.6 M728.0,1042.7L730.0,1043.2L732.0,1043.8L734.0,1044.3L736.0,1044.9L738.0,1045.4L740.0,1046.0L742.0,1046.5L744.0,1047.1L746.0,1047.6L748.0,1048.2L750.0,1048.8L752.0,1049.3L754.0,1049.9L756.0,1050.5L758.0,1051.0L760.0,1051.6L762.0,1052.2L764.0,1052.7L766.0,1053.3L768.0,1053.9L770.0,1054.4L772.0,1055.0L774.0,1055.6L776.0,1056.2L778.0,1056.8L778.2,1056.8 M847.5,1077.6L849.5,1078.2L851.5,1078.9L853.5,1079.5L855.5,1080.1L857.5,1080.7L859.5,1081.4L861.5,1082.0L863.5,1082.6L865.5,1083.3L867.5,1083.9L869.5,1084.5L871.5,1085.2L873.5,1085.8L875.5,1086.4L877.5,1087.1L879.5,1087.7L881.5,1088.3L883.5,1089.0L885.5,1089.6L887.5,1090.3L889.5,1090.9L891.5,1091.5L893.5,1092.2L895.5,1092.8L897.2,1093.5 M965.2,1117.6L967.2,1118.3L969.2,1119.1L971.2,1119.8L973.2,1120.5L975.2,1121.2L977.2,1121.9L979.2,1122.7L981.2,1123.4L983.2,1124.1L985.2,1124.8L987.2,1125.6L989.2,1126.3L991.2,1127.1L993.2,1127.9L995.2,1128.7L997.2,1129.6L999.2,1130.4L1001.2,1131.2L1003.2,1132.1L1005.2,1132.9L1007.2,1133.7L1009.2,1134.6L1011.2,1135.4L1013.2,1136.2L1014.0,1136.5 M1080.8,1164.2L1082.8,1165.0L1084.8,1165.9L1086.8,1166.7L1088.8,1167.5L1090.8,1168.3L1092.8,1169.1L1094.8,1170.0L1096.8,1170.8L1098.8,1171.6L1100.8,1172.4L1102.8,1173.2L1104.8,1174.0L1106.8,1174.9L1108.8,1175.7L1110.8,1176.5L1112.8,1177.3L1114.8,1178.2L1116.8,1179.0L1118.8,1179.8L1120.8,1180.6L1122.8,1181.4L1124.8,1182.3L1126.8,1183.1L1128.8,1183.9L1129.0,1184.0 M1196.2,1210.6L1198.2,1211.5L1200.2,1212.4L1202.2,1213.3L1204.2,1214.2L1206.2,1215.1L1208.2,1216.0L1210.2,1216.9L1212.2,1217.8L1214.2,1218.6L1216.2,1219.5L1218.2,1220.0L1220.2,1220.5L1222.0,1221.0" stroke="#131410" stroke-width="13" fill="none" stroke-linecap="round" stroke-linejoin="round"/></g>
<g clip-path="url(#cb)"><line x1="1390" y1="183.5" x2="2376" y2="183.5" stroke="#a06aa2" stroke-width="12.5"/><line x1="1390" y1="685" x2="2376" y2="685" stroke="#527a34" stroke-width="13"/><path d="M1390.0,961.0L1394.0,961.0L1398.0,961.0L1402.0,960.9L1406.0,960.9L1410.0,960.9L1414.0,960.9L1418.0,960.8L1422.0,960.8L1426.0,960.8L1430.0,960.8L1434.0,960.7L1438.0,960.7L1442.0,960.7L1446.0,960.7L1450.0,960.6L1454.0,960.6L1458.0,960.6L1462.0,960.6L1466.0,960.5L1470.0,960.5L1474.0,960.5L1478.0,960.5L1482.0,960.4L1486.0,960.4L1490.0,960.4L1494.0,960.4L1498.0,960.4L1502.0,960.3L1506.0,960.3L1510.0,960.3L1514.0,960.3L1518.0,960.2L1522.0,960.2L1526.0,960.2L1530.0,960.2L1534.0,960.1L1538.0,960.1L1542.0,960.1L1546.0,960.1L1550.0,960.0L1554.0,960.0L1558.0,960.0L1562.0,960.0L1566.0,959.9L1570.0,959.9L1574.0,959.9L1578.0,959.9L1582.0,959.8L1586.0,959.8L1590.0,959.8L1594.0,959.8L1598.0,959.8L1602.0,959.7L1606.0,959.7L1610.0,959.7L1614.0,959.7L1618.0,959.6L1622.0,959.6L1626.0,959.6L1630.0,959.6L1634.0,959.5L1638.0,959.5L1642.0,959.5L1646.0,959.4L1650.0,959.4L1654.0,959.3L1658.0,959.3L1662.0,959.2L1666.0,959.2L1670.0,959.1L1674.0,959.1L1678.0,959.0L1682.0,959.0L1686.0,958.9L1690.0,958.9L1694.0,958.8L1698.0,958.8L1702.0,958.7L1706.0,958.7L1710.0,958.6L1714.0,958.6L1718.0,958.5L1722.0,958.5L1726.0,958.4L1730.0,958.4L1734.0,958.3L1738.0,958.3L1742.0,958.2L1746.0,958.2L1750.0,958.1L1754.0,958.1L1758.0,958.0L1762.0,958.0L1766.0,957.9L1770.0,957.9L1774.0,957.8L1778.0,957.8L1782.0,957.7L1786.0,957.7L1790.0,957.6L1794.0,957.6L1798.0,957.5L1802.0,957.5L1806.0,957.4L1810.0,957.4L1814.0,957.3L1818.0,957.3L1822.0,957.2L1826.0,957.2L1830.0,957.1L1834.0,957.1L1838.0,957.0L1842.0,957.0L1846.0,956.9L1850.0,956.9L1854.0,956.8L1858.0,956.8L1862.0,956.7L1866.0,956.7L1870.0,956.6L1874.0,956.6L1878.0,956.5L1882.0,956.4L1886.0,956.3L1890.0,956.2L1894.0,956.1L1898.0,956.0L1902.0,955.8L1906.0,955.7L1910.0,955.6L1914.0,955.5L1918.0,955.4L1922.0,955.2L1926.0,955.1L1930.0,955.0L1934.0,954.9L1938.0,954.8L1942.0,954.6L1946.0,954.5L1950.0,954.4L1954.0,954.3L1958.0,954.2L1962.0,954.0L1966.0,953.9L1970.0,953.8L1974.0,953.7L1978.0,953.6L1982.0,953.4L1986.0,953.3L1990.0,953.1L1994.0,953.0L1998.0,952.9L2002.0,952.7L2006.0,952.6L2010.0,952.4L2014.0,952.3L2018.0,952.1L2022.0,952.0L2026.0,951.9L2030.0,951.7L2034.0,951.6L2038.0,951.4L2042.0,951.3L2046.0,951.2L2050.0,951.0L2054.0,950.9L2058.0,950.7L2062.0,950.6L2066.0,950.4L2070.0,950.3L2074.0,950.0L2078.0,949.8L2082.0,949.5L2086.0,949.2L2090.0,949.0L2094.0,948.7L2098.0,948.4L2102.0,948.2L2106.0,947.9L2110.0,947.6L2114.0,947.4L2118.0,947.1L2122.0,946.8L2126.0,946.6L2130.0,946.3L2134.0,946.0L2138.0,945.8L2142.0,945.5L2146.0,945.2L2150.0,945.0L2154.0,944.7L2158.0,944.4L2162.0,944.2L2166.0,944.0L2170.0,943.9L2174.0,943.7L2178.0,943.5L2182.0,943.4L2186.0,943.2L2190.0,943.0L2194.0,942.8L2198.0,942.7L2202.0,942.5L2206.0,942.3L2210.0,942.1L2214.0,942.0L2218.0,941.8L2222.0,941.6L2226.0,941.5L2230.0,941.3L2234.0,941.1L2238.0,940.9L2242.0,940.8L2246.0,940.6L2250.0,940.4L2254.0,940.3L2258.0,940.1L2262.0,939.9L2266.0,939.6L2270.0,939.4L2274.0,939.2L2278.0,938.9L2282.0,938.7L2286.0,938.4L2290.0,938.2L2294.0,937.9L2298.0,937.7L2302.0,937.5L2306.0,937.2L2310.0,937.0L2314.0,936.7L2318.0,936.5L2322.0,936.3L2326.0,936.0L2330.0,935.8L2334.0,935.5L2338.0,935.3L2342.0,935.1L2346.0,934.8L2350.0,934.6L2354.0,934.3L2358.0,934.1L2362.0,933.8L2366.0,933.6L2370.0,933.4L2374.0,933.1" stroke="#131410" stroke-width="13" fill="none"/><path d="M1390.0,974.4L1394.0,974.4L1398.0,974.3L1402.0,974.3L1406.0,974.3L1410.0,974.2L1414.0,974.2L1418.0,974.2L1422.0,974.2L1426.0,974.1L1430.0,974.1L1434.0,974.1L1438.0,974.0L1442.0,974.0L1446.0,974.0L1450.0,973.9L1454.0,973.9L1458.0,973.9L1462.0,973.9L1466.0,973.8L1470.0,973.8L1474.0,973.8L1478.0,973.7L1482.0,973.7L1486.0,973.7L1490.0,973.6L1494.0,973.6L1498.0,973.6L1502.0,973.5L1506.0,973.5L1510.0,973.5L1514.0,973.5L1518.0,973.4L1522.0,973.4L1526.0,973.4L1530.0,973.3L1534.0,973.3L1538.0,973.3L1542.0,973.2L1546.0,973.2L1550.0,973.2L1554.0,973.2L1558.0,973.1L1562.0,973.1L1566.0,973.1L1570.0,973.0L1574.0,973.0L1578.0,973.0L1582.0,972.9L1586.0,972.9L1590.0,972.9L1594.0,972.8L1598.0,972.8L1602.0,972.8L1606.0,972.8L1610.0,972.7L1614.0,972.7L1618.0,972.7L1622.0,972.6L1626.0,972.6L1630.0,972.6L1634.0,972.5L1638.0,972.5L1642.0,972.4L1646.0,972.3L1650.0,972.2L1654.0,972.1L1658.0,972.0L1662.0,971.9L1666.0,971.8L1670.0,971.7L1674.0,971.6L1678.0,971.5L1682.0,971.4L1686.0,971.3L1690.0,971.1L1694.0,971.0L1698.0,970.9L1702.0,970.8L1706.0,970.7L1710.0,970.6L1714.0,970.5L1718.0,970.4L1722.0,970.3L1726.0,970.2L1730.0,970.1L1734.0,970.0L1738.0,969.8L1742.0,969.7L1746.0,969.6L1750.0,969.5L1754.0,969.4L1758.0,969.3L1762.0,969.2L1766.0,969.1L1770.0,969.0L1774.0,968.9L1778.0,968.8L1782.0,968.7L1786.0,968.5L1790.0,968.4L1794.0,968.3L1798.0,968.2L1802.0,968.1L1806.0,968.0L1810.0,967.9L1814.0,967.8L1818.0,967.7L1822.0,967.6L1826.0,967.5L1830.0,967.4L1834.0,967.2L1838.0,967.1L1842.0,967.0L1846.0,966.9L1850.0,966.8L1854.0,966.7L1858.0,966.6L1862.0,966.5L1866.0,966.4L1870.0,966.3L1874.0,966.2L1878.0,966.1L1882.0,966.0L1886.0,965.9L1890.0,965.8L1894.0,965.7L1898.0,965.6L1902.0,965.5L1906.0,965.5L1910.0,965.4L1914.0,965.3L1918.0,965.2L1922.0,965.1L1926.0,965.0L1930.0,965.0L1934.0,964.9L1938.0,964.8L1942.0,964.7L1946.0,964.6L1950.0,964.5L1954.0,964.4L1958.0,964.4L1962.0,964.3L1966.0,964.2L1970.0,964.1L1974.0,964.0L1978.0,963.9L1982.0,963.8L1986.0,963.7L1990.0,963.5L1994.0,963.3L1998.0,963.2L2002.0,963.0L2006.0,962.8L2010.0,962.7L2014.0,962.5L2018.0,962.3L2022.0,962.2L2026.0,962.0L2030.0,961.8L2034.0,961.7L2038.0,961.5L2042.0,961.4L2046.0,961.2L2050.0,961.0L2054.0,960.9L2058.0,960.7L2062.0,960.5L2066.0,960.4L2070.0,960.2L2074.0,959.8L2078.0,959.3L2082.0,958.9L2086.0,958.5L2090.0,958.1L2094.0,957.6L2098.0,957.2L2102.0,956.8L2106.0,956.4L2110.0,955.9L2114.0,955.5L2118.0,955.1L2122.0,954.7L2126.0,954.2L2130.0,953.8L2134.0,953.4L2138.0,952.9L2142.0,952.5L2146.0,952.1L2150.0,951.7L2154.0,951.2L2158.0,950.8L2162.0,950.5L2166.0,950.3L2170.0,950.1L2174.0,950.0L2178.0,949.8L2182.0,949.6L2186.0,949.4L2190.0,949.2L2194.0,949.0L2198.0,948.9L2202.0,948.7L2206.0,948.5L2210.0,948.3L2214.0,948.1L2218.0,947.9L2222.0,947.7L2226.0,947.6L2230.0,947.4L2234.0,947.2L2238.0,947.0L2242.0,946.8L2246.0,946.6L2250.0,946.5L2254.0,946.3L2258.0,946.1L2262.0,945.8L2266.0,945.5L2270.0,945.1L2274.0,944.8L2278.0,944.4L2282.0,944.1L2286.0,943.8L2290.0,943.4L2294.0,943.1L2298.0,942.7L2302.0,942.4L2306.0,942.0L2310.0,941.7L2314.0,941.3L2318.0,941.0L2322.0,940.7L2326.0,940.3L2330.0,940.0L2334.0,939.6L2338.0,939.3L2342.0,938.9L2346.0,938.6L2350.0,938.2L2354.0,937.9L2358.0,937.6L2362.0,937.2L2366.0,936.9L2370.0,936.5L2374.0,936.2" stroke="#e84a2f" stroke-width="13" fill="none"/><path d="M1390.0,988.0L1394.0,987.9L1398.0,987.9L1402.0,987.8L1406.0,987.8L1410.0,987.7L1414.0,987.7L1418.0,987.6L1422.0,987.6L1426.0,987.5L1430.0,987.4L1434.0,987.4L1438.0,987.3L1442.0,987.3L1446.0,987.2L1450.0,987.2L1454.0,987.1L1458.0,987.0L1462.0,987.0L1466.0,986.9L1470.0,986.9L1474.0,986.8L1478.0,986.8L1482.0,986.7L1486.0,986.7L1490.0,986.6L1494.0,986.5L1498.0,986.5L1502.0,986.4L1506.0,986.4L1510.0,986.3L1514.0,986.3L1518.0,986.2L1522.0,986.2L1526.0,986.1L1530.0,986.0L1534.0,986.0L1538.0,985.9L1542.0,985.9L1546.0,985.8L1550.0,985.8L1554.0,985.7L1558.0,985.6L1562.0,985.6L1566.0,985.5L1570.0,985.5L1574.0,985.4L1578.0,985.4L1582.0,985.3L1586.0,985.3L1590.0,985.2L1594.0,985.1L1598.0,985.1L1602.0,985.0L1606.0,985.0L1610.0,984.9L1614.0,984.9L1618.0,984.8L1622.0,984.8L1626.0,984.7L1630.0,984.6L1634.0,984.6L1638.0,984.5L1642.0,984.5L1646.0,984.4L1650.0,984.3L1654.0,984.2L1658.0,984.1L1662.0,984.0L1666.0,983.9L1670.0,983.8L1674.0,983.7L1678.0,983.6L1682.0,983.5L1686.0,983.4L1690.0,983.4L1694.0,983.3L1698.0,983.2L1702.0,983.1L1706.0,983.0L1710.0,982.9L1714.0,982.8L1718.0,982.7L1722.0,982.6L1726.0,982.5L1730.0,982.4L1734.0,982.3L1738.0,982.3L1742.0,982.2L1746.0,982.1L1750.0,982.0L1754.0,981.9L1758.0,981.8L1762.0,981.7L1766.0,981.6L1770.0,981.5L1774.0,981.4L1778.0,981.3L1782.0,981.2L1786.0,981.2L1790.0,981.1L1794.0,981.0L1798.0,980.9L1802.0,980.8L1806.0,980.7L1810.0,980.6L1814.0,980.5L1818.0,980.4L1822.0,980.3L1826.0,980.2L1830.0,980.1L1834.0,980.1L1838.0,980.0L1842.0,979.9L1846.0,979.8L1850.0,979.7L1854.0,979.6L1858.0,979.5L1862.0,979.4L1866.0,979.3L1870.0,979.2L1874.0,979.1L1878.0,979.0L1882.0,978.9L1886.0,978.7L1890.0,978.5L1894.0,978.3L1898.0,978.1L1902.0,977.9L1906.0,977.7L1910.0,977.5L1914.0,977.3L1918.0,977.1L1922.0,976.9L1926.0,976.7L1930.0,976.5L1934.0,976.3L1938.0,976.1L1942.0,975.9L1946.0,975.7L1950.0,975.5L1954.0,975.3L1958.0,975.1L1962.0,974.9L1966.0,974.7L1970.0,974.5L1974.0,974.3L1978.0,974.1L1982.0,973.9L1986.0,973.7L1990.0,973.6L1994.0,973.4L1998.0,973.2L2002.0,973.0L2006.0,972.8L2010.0,972.7L2014.0,972.5L2018.0,972.3L2022.0,972.1L2026.0,972.0L2030.0,971.8L2034.0,971.6L2038.0,971.4L2042.0,971.2L2046.0,971.1L2050.0,970.9L2054.0,970.7L2058.0,970.5L2062.0,970.4L2066.0,970.2L2070.0,970.0L2074.0,969.7L2078.0,969.4L2082.0,969.1L2086.0,968.8L2090.0,968.6L2094.0,968.3L2098.0,968.0L2102.0,967.7L2106.0,967.4L2110.0,967.1L2114.0,966.8L2118.0,966.5L2122.0,966.2L2126.0,966.0L2130.0,965.7L2134.0,965.4L2138.0,965.1L2142.0,964.8L2146.0,964.5L2150.0,964.2L2154.0,963.9L2158.0,963.6L2162.0,963.3L2166.0,963.0L2170.0,962.7L2174.0,962.4L2178.0,962.1L2182.0,961.7L2186.0,961.4L2190.0,961.1L2194.0,960.8L2198.0,960.5L2202.0,960.1L2206.0,959.8L2210.0,959.5L2214.0,959.2L2218.0,958.9L2222.0,958.5L2226.0,958.2L2230.0,957.9L2234.0,957.6L2238.0,957.3L2242.0,956.9L2246.0,956.6L2250.0,956.3L2254.0,956.0L2258.0,955.7L2262.0,955.3L2266.0,954.8L2270.0,954.3L2274.0,953.8L2278.0,953.3L2282.0,952.8L2286.0,952.4L2290.0,951.9L2294.0,951.4L2298.0,950.9L2302.0,950.4L2306.0,949.9L2310.0,949.5L2314.0,949.0L2318.0,948.5L2322.0,948.0L2326.0,947.5L2330.0,947.1L2334.0,946.6L2338.0,946.1L2342.0,945.6L2346.0,945.1L2350.0,944.6L2354.0,944.2L2358.0,943.7L2362.0,943.2L2366.0,942.7L2370.0,942.2L2374.0,941.7" stroke="#374488" stroke-width="13" fill="none"/><path d="M2262,933L2322,923.5" stroke="#131410" stroke-width="13" stroke-linecap="round"/><path d="M2262,936.5L2318,925.5" stroke="#e84a2f" stroke-width="13" stroke-linecap="round"/><path d="M2262,943L2318,934.5" stroke="#374488" stroke-width="13" stroke-linecap="round"/><path d="M2112,966L2160,959.5L2250,952" stroke="#374488" stroke-width="13" stroke-linecap="round" fill="none"/></g>
<rect x="232" y="45.2" width="982" height="2.6" fill="#0b0b0b"/>
<rect x="232" y="1319.9" width="982" height="2.6" fill="#3a3a3a"/>
<rect x="232" y="45.2" width="2.7" height="1277.4" fill="#0b0b0b"/>
<rect x="1392.2" y="45.2" width="981.7" height="2.6" fill="#0b0b0b"/>
<rect x="1392.2" y="1319.9" width="981.7" height="2.4" fill="#363636"/>
<rect x="1392.2" y="45.2" width="2.6" height="1277.1" fill="#0b0b0b"/>
<rect x="2371.2" y="45.2" width="2.7" height="1277.1" fill="#262626"/>
<rect x="313.9" y="47.8" width="2.6" height="3.5" fill="#0b0b0b"/>
<rect x="313.9" y="1316.9" width="2.6" height="3.0" fill="#0b0b0b"/>
<rect x="395.5" y="47.8" width="2.6" height="8.0" fill="#0b0b0b"/>
<rect x="395.5" y="1313.9" width="2.6" height="6.0" fill="#0b0b0b"/>
<rect x="477.2" y="47.8" width="2.6" height="3.5" fill="#0b0b0b"/>
<rect x="477.2" y="1316.9" width="2.6" height="3.0" fill="#0b0b0b"/>
<rect x="558.9" y="47.8" width="2.6" height="8.0" fill="#0b0b0b"/>
<rect x="558.9" y="1313.9" width="2.6" height="6.0" fill="#0b0b0b"/>
<rect x="640.5" y="47.8" width="2.6" height="3.5" fill="#0b0b0b"/>
<rect x="640.5" y="1316.9" width="2.6" height="3.0" fill="#0b0b0b"/>
<rect x="722.2" y="47.8" width="2.6" height="8.0" fill="#0b0b0b"/>
<rect x="722.2" y="1313.9" width="2.6" height="6.0" fill="#0b0b0b"/>
<rect x="803.9" y="47.8" width="2.6" height="3.5" fill="#0b0b0b"/>
<rect x="803.9" y="1316.9" width="2.6" height="3.0" fill="#0b0b0b"/>
<rect x="885.5" y="47.8" width="2.6" height="8.0" fill="#0b0b0b"/>
<rect x="885.5" y="1313.9" width="2.6" height="6.0" fill="#0b0b0b"/>
<rect x="967.2" y="47.8" width="2.6" height="3.5" fill="#0b0b0b"/>
<rect x="967.2" y="1316.9" width="2.6" height="3.0" fill="#0b0b0b"/>
<rect x="1048.9" y="47.8" width="2.6" height="8.0" fill="#0b0b0b"/>
<rect x="1048.9" y="1313.9" width="2.6" height="6.0" fill="#0b0b0b"/>
<rect x="1130.5" y="47.8" width="2.6" height="3.5" fill="#0b0b0b"/>
<rect x="1130.5" y="1316.9" width="2.6" height="3.0" fill="#0b0b0b"/>
<rect x="1473.6" y="47.8" width="2.6" height="2.5" fill="#0b0b0b"/>
<rect x="1473.6" y="1316.9" width="2.6" height="3.0" fill="#0b0b0b"/>
<rect x="1555.2" y="47.8" width="2.6" height="8.0" fill="#0b0b0b"/>
<rect x="1555.2" y="1313.9" width="2.6" height="6.0" fill="#0b0b0b"/>
<rect x="1636.8" y="47.8" width="2.6" height="2.5" fill="#0b0b0b"/>
<rect x="1636.8" y="1316.9" width="2.6" height="3.0" fill="#0b0b0b"/>
<rect x="1718.4" y="47.8" width="2.6" height="8.0" fill="#0b0b0b"/>
<rect x="1718.4" y="1313.9" width="2.6" height="6.0" fill="#0b0b0b"/>
<rect x="1800.0" y="47.8" width="2.6" height="2.5" fill="#0b0b0b"/>
<rect x="1800.0" y="1316.9" width="2.6" height="3.0" fill="#0b0b0b"/>
<rect x="1881.6" y="47.8" width="2.6" height="8.0" fill="#0b0b0b"/>
<rect x="1881.6" y="1313.9" width="2.6" height="6.0" fill="#0b0b0b"/>
<rect x="1963.2" y="47.8" width="2.6" height="2.5" fill="#0b0b0b"/>
<rect x="1963.2" y="1316.9" width="2.6" height="3.0" fill="#0b0b0b"/>
<rect x="2044.8" y="47.8" width="2.6" height="8.0" fill="#0b0b0b"/>
<rect x="2044.8" y="1313.9" width="2.6" height="6.0" fill="#0b0b0b"/>
<rect x="2126.4" y="47.8" width="2.6" height="2.5" fill="#0b0b0b"/>
<rect x="2126.4" y="1316.9" width="2.6" height="3.0" fill="#0b0b0b"/>
<rect x="2208.0" y="47.8" width="2.6" height="8.0" fill="#9c9c9a"/>
<rect x="2208.0" y="1313.9" width="2.6" height="6.0" fill="#9c9c9a"/>
<rect x="2289.6" y="47.8" width="2.6" height="2.5" fill="#0b0b0b"/>
<rect x="2289.6" y="1316.9" width="2.6" height="3.0" fill="#0b0b0b"/>
<rect x="234.7" y="204.5" width="5.0" height="2.6" fill="#0b0b0b"/>
<rect x="1208.5" y="204.5" width="3.0" height="2.6" fill="#0b0b0b"/>
<rect x="234.7" y="363.9" width="8.0" height="2.6" fill="#0b0b0b"/>
<rect x="1205.5" y="363.9" width="6.0" height="2.6" fill="#0b0b0b"/>
<rect x="234.7" y="523.2" width="5.0" height="2.6" fill="#0b0b0b"/>
<rect x="1208.5" y="523.2" width="3.0" height="2.6" fill="#0b0b0b"/>
<rect x="234.7" y="682.6" width="8.0" height="2.6" fill="#0b0b0b"/>
<rect x="1205.5" y="682.6" width="6.0" height="2.6" fill="#0b0b0b"/>
<rect x="234.7" y="841.9" width="5.0" height="2.6" fill="#0b0b0b"/>
<rect x="1208.5" y="841.9" width="3.0" height="2.6" fill="#0b0b0b"/>
<rect x="234.7" y="1001.2" width="8.0" height="2.6" fill="#0b0b0b"/>
<rect x="1205.5" y="1001.2" width="6.0" height="2.6" fill="#0b0b0b"/>
<rect x="234.7" y="1160.6" width="5.0" height="2.6" fill="#0b0b0b"/>
<rect x="1208.5" y="1160.6" width="3.0" height="2.6" fill="#0b0b0b"/>
<rect x="1394.8" y="124.9" width="4.5" height="2.6" fill="#0b0b0b"/>
<rect x="2368.2" y="124.9" width="3.0" height="2.6" fill="#0b0b0b"/>
<rect x="1394.8" y="204.5" width="8.0" height="2.6" fill="#0b0b0b"/>
<rect x="2364.2" y="204.5" width="7.0" height="2.6" fill="#0b0b0b"/>
<rect x="1394.8" y="284.2" width="4.5" height="2.6" fill="#0b0b0b"/>
<rect x="2368.2" y="284.2" width="3.0" height="2.6" fill="#0b0b0b"/>
<rect x="1394.8" y="363.9" width="8.0" height="2.6" fill="#0b0b0b"/>
<rect x="2364.2" y="363.9" width="7.0" height="2.6" fill="#0b0b0b"/>
<rect x="1394.8" y="443.5" width="4.5" height="2.6" fill="#0b0b0b"/>
<rect x="2368.2" y="443.5" width="3.0" height="2.6" fill="#0b0b0b"/>
<rect x="1394.8" y="523.2" width="8.0" height="2.6" fill="#0b0b0b"/>
<rect x="2364.2" y="523.2" width="7.0" height="2.6" fill="#0b0b0b"/>
<rect x="1394.8" y="602.9" width="4.5" height="2.6" fill="#0b0b0b"/>
<rect x="2368.2" y="602.9" width="3.0" height="2.6" fill="#0b0b0b"/>
<rect x="1394.8" y="682.6" width="8.0" height="2.6" fill="#0b0b0b"/>
<rect x="2364.2" y="682.6" width="7.0" height="2.6" fill="#0b0b0b"/>
<rect x="1394.8" y="762.2" width="4.5" height="2.6" fill="#0b0b0b"/>
<rect x="2368.2" y="762.2" width="3.0" height="2.6" fill="#0b0b0b"/>
<rect x="1394.8" y="841.9" width="8.0" height="2.6" fill="#0b0b0b"/>
<rect x="2364.2" y="841.9" width="7.0" height="2.6" fill="#0b0b0b"/>
<rect x="1394.8" y="921.6" width="4.5" height="2.6" fill="#0b0b0b"/>
<rect x="2368.2" y="921.6" width="3.0" height="2.6" fill="#0b0b0b"/>
<rect x="1394.8" y="1001.2" width="8.0" height="2.6" fill="#0b0b0b"/>
<rect x="2364.2" y="1001.2" width="7.0" height="2.6" fill="#0b0b0b"/>
<rect x="1394.8" y="1080.9" width="4.5" height="2.6" fill="#0b0b0b"/>
<rect x="2368.2" y="1080.9" width="3.0" height="2.6" fill="#0b0b0b"/>
<rect x="1394.8" y="1160.6" width="8.0" height="2.6" fill="#0b0b0b"/>
<rect x="2364.2" y="1160.6" width="7.0" height="2.6" fill="#0b0b0b"/>
<rect x="1394.8" y="1240.2" width="4.5" height="2.6" fill="#0b0b0b"/>
<rect x="2368.2" y="1240.2" width="3.0" height="2.6" fill="#0b0b0b"/>
<line x1="242" y1="466.8" x2="396.5" y2="466.8" stroke="#a06aa2" stroke-width="13"/>
<line x1="242" y1="564.8" x2="396.5" y2="564.8" stroke="#527a34" stroke-width="13"/>
<line x1="1649.5" y1="256.8" x2="1805" y2="256.8" stroke="#131410" stroke-width="13"/>
<line x1="1649.5" y1="335.9" x2="1805" y2="335.9" stroke="#e84a2f" stroke-width="13"/>
<line x1="1649.5" y1="415.2" x2="1805" y2="415.2" stroke="#374488" stroke-width="13"/>
<g font-family="Liberation Sans, Arial, sans-serif" style="font-kerning:none"><text x="223.3" y="64.0" font-size="62.5" fill="#111" text-anchor="end">0.<tspan font-family="NanumGothic" font-size="57.5" dx="2">1</tspan><tspan dx="-2">6</tspan></text><text x="223.3" y="382.7" font-size="62.5" fill="#111" text-anchor="end">0.<tspan font-family="NanumGothic" font-size="57.5" dx="2">1</tspan><tspan dx="-2">2</tspan></text><text x="223.3" y="701.4" font-size="62.5" fill="#111" text-anchor="end">0.08</text><text x="223.3" y="1020.0" font-size="62.5" fill="#111" text-anchor="end">0.04</text><text x="223.3" y="1338.7" font-size="62.5" fill="#111" text-anchor="end">0.00</text><text x="1382.9" y="64.0" font-size="62.5" fill="#111" text-anchor="end">4</text><text x="1382.9" y="223.3" font-size="62.5" fill="#111" text-anchor="end">3</text><text x="1382.9" y="382.7" font-size="62.5" fill="#111" text-anchor="end">2</text><text x="1382.9" y="542.0" font-size="62.5" fill="#111" text-anchor="end"><tspan font-family="NanumGothic" font-size="57.5" dx="2">1</tspan></text><text x="1382.9" y="701.4" font-size="62.5" fill="#111" text-anchor="end">0</text><text transform="translate(1325.6,861.8) scale(1.21,1)" font-size="62.5" fill="#111">-</text><text x="1382.9" y="860.7" font-size="62.5" fill="#111" text-anchor="end"><tspan font-family="NanumGothic" font-size="57.5" dx="2">1</tspan></text><text transform="translate(1325.6,1021.1) scale(1.21,1)" font-size="62.5" fill="#111">-</text><text x="1382.9" y="1020.0" font-size="62.5" fill="#111" text-anchor="end">2</text><text transform="translate(1325.6,1180.5) scale(1.21,1)" font-size="62.5" fill="#111">-</text><text x="1382.9" y="1179.4" font-size="62.5" fill="#111" text-anchor="end">3</text><text transform="translate(1325.6,1339.8) scale(1.21,1)" font-size="62.5" fill="#111">-</text><text x="1382.9" y="1338.7" font-size="62.5" fill="#111" text-anchor="end">4</text><text x="233.5" y="1379.5" font-size="62.5" fill="#111" text-anchor="middle">0</text><text x="1393.3" y="1379.5" font-size="62.5" fill="#111" text-anchor="middle">0</text><text x="396.8" y="1379.5" font-size="62.5" fill="#111" text-anchor="middle">5</text><text x="1556.5" y="1379.5" font-size="62.5" fill="#111" text-anchor="middle">5</text><text x="560.2" y="1379.5" font-size="62.5" fill="#111" text-anchor="middle"><tspan font-family="NanumGothic" font-size="57.5" dx="2">1</tspan><tspan dx="-2">0</tspan></text><text x="1719.7" y="1379.5" font-size="62.5" fill="#111" text-anchor="middle"><tspan font-family="NanumGothic" font-size="57.5" dx="2">1</tspan><tspan dx="-2">0</tspan></text><text x="723.5" y="1379.5" font-size="62.5" fill="#111" text-anchor="middle"><tspan font-family="NanumGothic" font-size="57.5" dx="2">1</tspan><tspan dx="-2">5</tspan></text><text x="1882.9" y="1379.5" font-size="62.5" fill="#111" text-anchor="middle"><tspan font-family="NanumGothic" font-size="57.5" dx="2">1</tspan><tspan dx="-2">5</tspan></text><text x="886.8" y="1379.5" font-size="62.5" fill="#111" text-anchor="middle">20</text><text x="2046.1" y="1379.5" font-size="62.5" fill="#111" text-anchor="middle">20</text><text x="1050.2" y="1379.5" font-size="62.5" fill="#111" text-anchor="middle">25</text><text x="2209.3" y="1379.5" font-size="62.5" fill="#111" text-anchor="middle">25</text><text x="1213.5" y="1379.5" font-size="62.5" fill="#111" text-anchor="middle">30</text><text x="2372.5" y="1379.5" font-size="62.5" fill="#111" text-anchor="middle">30</text><text x="469.2" y="1444.8" font-size="80.5" fill="#111">Angle(degree)</text><text x="1618.2" y="1444.7" font-size="80.5" fill="#111">Angle (degree)</text><text transform="translate(82.0,791.0) rotate(-90)" font-size="80.5" fill="#111">Amplitude</text><text transform="translate(1317.6,798.9) rotate(-90)" font-size="80.5" fill="#111">Phase</text><text x="241.8" y="110.5" font-size="64" fill="#111">(a)</text><text x="1401.4" y="104.4" font-size="63.5" fill="#111">(b)</text><text x="2143.0" y="110.6" font-size="63" fill="#111">Model 2</text><text x="408.9" y="488.9" font-size="64" fill="#111">Top-interface R</text><text x="843.2" y="511.7" font-size="39" fill="#111">PP</text><text x="407.6" y="585.0" font-size="64" fill="#111">Bottom-interface R</text><text x="934.9" y="608.0" font-size="39" fill="#111">PP</text><text x="1815.0" y="278.9" font-size="64" fill="#111">20Hz</text><text x="1815.6" y="357.8" font-size="64" fill="#111">30Hz</text><text x="1815.8" y="436.8" font-size="64" fill="#111">40Hz</text><text x="1653.8" y="516.2" font-size="63.4" fill="#111">Solid: true R</text><text x="1998.4" y="538.1" font-size="39" fill="#111">PP</text><text x="1653.7" y="612.5" font-size="63.2" fill="#111">Dash: approximated</text><text x="2253.1" y="612.5" font-size="64" fill="#111">R</text><text x="2296.9" y="635.3" font-size="39" fill="#111">PP</text></g>
</g></svg></body></html>
